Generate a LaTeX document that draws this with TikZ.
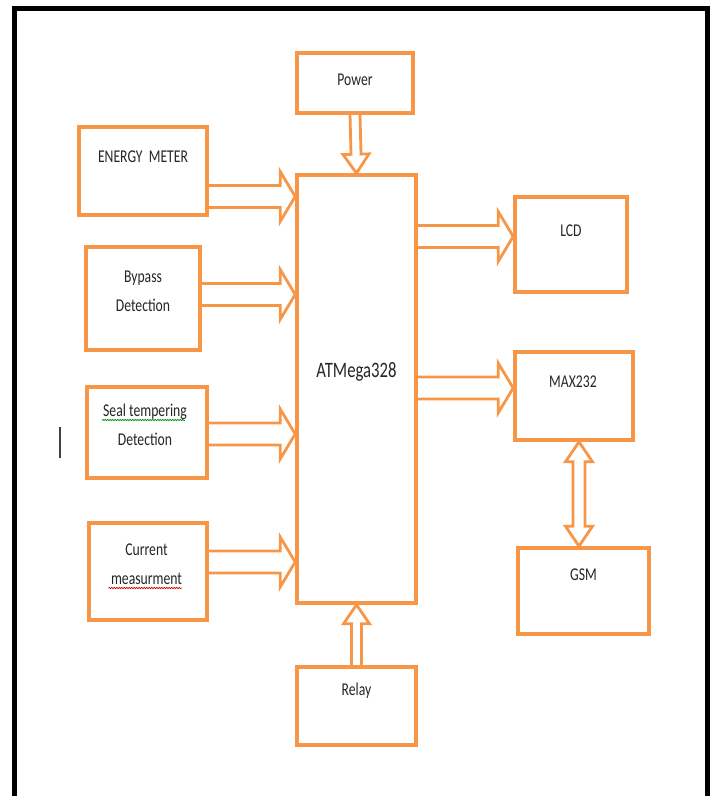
\documentclass[tikz,border=0pt]{standalone}
\usepackage{fontspec}
\usetikzlibrary{calc,decorations.pathmorphing}
\newfontfamily\calib[FakeStretch=0.76]{Carlito}
\definecolor{boxorange}{RGB}{247,150,70}
\tikzset{box/.style={draw=boxorange, line width=3.6pt, fill=white, inner sep=0pt},
  txt/.style={font=\calib\fontsize{18}{29}\selectfont, align=center, text=black!85, inner sep=1pt},
  hollow/.style n args={3}{draw=boxorange, line width=2.8pt, line join=miter,
    to path={let \p{b}=($(\tikztotarget)!#3!(\tikztostart)$) in
      ($(\tikztostart)!#1!90:(\tikztotarget)$) -- ($(\p{b})!#1!90:(\tikztotarget)$)
      -- ($(\p{b})!#2!90:(\tikztotarget)$) -- (\tikztotarget)
      -- ($(\p{b})!#2!-90:(\tikztotarget)$) -- ($(\p{b})!#1!-90:(\tikztotarget)$)
      -- ($(\tikztostart)!#1!-90:(\tikztotarget)$)}},
  hollowboth/.style n args={3}{draw=boxorange, line width=2.8pt, line join=miter,
    to path={let \p{a}=($(\tikztostart)!#3!(\tikztotarget)$), \p{b}=($(\tikztotarget)!#3!(\tikztostart)$) in
      (\tikztostart) -- ($(\p{a})!#2!90:(\tikztotarget)$) -- ($(\p{a})!#1!90:(\tikztotarget)$)
      -- ($(\p{b})!#1!90:(\tikztotarget)$) -- ($(\p{b})!#2!90:(\tikztotarget)$) -- (\tikztotarget)
      -- ($(\p{b})!#2!-90:(\tikztotarget)$) -- ($(\p{b})!#1!-90:(\tikztotarget)$)
      -- ($(\p{a})!#1!-90:(\tikztotarget)$) -- ($(\p{a})!#2!-90:(\tikztotarget)$) -- cycle}},
  hbus/.style={hollow={11pt}{25pt}{15pt}},
  vbus/.style={hollow={5pt}{13pt}{19pt}},
  squig/.style={draw=#1, line width=0.7pt, decorate, decoration={snake, amplitude=0.7pt, segment length=2.5pt}}}

\begin{document}
\begin{tikzpicture}[x=1pt,y=-1pt]
 \useasboundingbox (0,0) rectangle (712,796);
 \draw[line width=5pt] (14,796) |- (707,8) -- (707,796);
 \draw[line width=2.5pt, black!75] (60,427) -- (60,458);

 % blocks
 \node[box, minimum width=116pt, minimum height=60pt]  (power) at (355,83) {};
 \node[box, minimum width=119pt, minimum height=428pt] (atm)   at (356.5,389) {};
 \node[box, minimum width=128pt, minimum height=88pt]  (em)    at (143,171) {};
 \node[box, minimum width=114pt, minimum height=103pt] (bypass) at (143,298.5) {};
 \node[box, minimum width=120pt, minimum height=91pt]  (seal)  at (147,432.5) {};
 \node[box, minimum width=118pt, minimum height=97pt]  (curr)  at (148,571.5) {};
 \node[box, minimum width=119pt, minimum height=78pt]  (relay) at (356.5,706) {};
 \node[box, minimum width=112pt, minimum height=95pt]  (lcd)   at (571,244.5) {};
 \node[box, minimum width=118pt, minimum height=88pt]  (max)   at (574,396) {};
 \node[box, minimum width=131pt, minimum height=86pt]  (gsm)   at (583.5,591) {};

 \node[txt] (power-t)  at ([yshift=3pt]power) {Power};
 \node[txt, font=\calib\fontsize{22}{26}\selectfont] (atm-t) at ([yshift=17pt]atm) {ATMega328};
 \node[txt] (em-t)     at ([yshift=14pt]em) {ENERGY\ \ METER};
 \node[txt] (bypass-t) at ([yshift=7pt]bypass) {Bypass\\Detection};
 \node[txt] (seal-t)   at ([xshift=-2pt,yshift=7.5pt]seal) {Seal tempering\\Detection};
 \node[txt] (curr-t)   at ([xshift=-1.5pt,yshift=7.5pt]curr) {Current\\measurment};
 \node[txt] (relay-t)  at ([yshift=15pt]relay) {Relay};
 \node[txt] (lcd-t)    at ([yshift=14pt]lcd) {LCD};
 \node[txt] (max-t)    at ([xshift=-1pt,yshift=14pt]max) {MAX232};
 \node[txt] (gsm-t)    at ([yshift=16pt]gsm) {GSM};

 \draw[squig=green!55!black] ([shift={(-43pt,5pt)}]seal-t.center) -- ([shift={(40pt,5pt)}]seal-t.center);
 \draw[squig=red!80!black] ([shift={(-38pt,-24pt)}]curr-t.center) -- ([shift={(35pt,-24pt)}]curr-t.center);

 % buses
 \draw[vbus] (power.south) to (atm.north);
 \draw[vbus] (relay.north) to (atm.south);

 \coordinate (em-out)     at ([yshift=-25.5pt]em.east);
 \coordinate (bypass-out) at ([yshift=4pt]bypass.east);
 \coordinate (seal-out)   at ([yshift=-1.5pt]seal.east);
 \coordinate (curr-out)   at ([yshift=9.5pt]curr.east);
 \coordinate (lcd-in)     at ([yshift=8pt]lcd.west);
 \coordinate (max-in)     at ([yshift=8pt]max.west);
 \draw[hbus] (em-out) to (em-out -| atm.west);
 \draw[hbus] (bypass-out) to (bypass-out -| atm.west);
 \draw[hbus] (seal-out) to (seal-out -| atm.west);
 \draw[hbus] (curr-out) to (curr-out -| atm.west);
 \draw[hbus] (lcd-in -| atm.east) to (lcd-in);
 \draw[hbus] (max-in -| atm.east) to (max-in);

 \coordinate (link) at ([xshift=5pt]max.south);
 \draw[hollowboth={6pt}{13.5pt}{20pt}] (link) to (link |- gsm.north);
\end{tikzpicture}
\end{document}
